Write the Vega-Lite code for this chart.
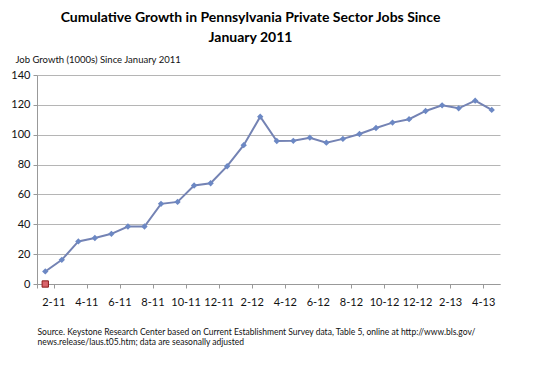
{
  "$schema": "https://vega.github.io/schema/vega-lite/v6.json",
  "autosize": {"type": "none"},
  "width": 463,
  "height": 209,
  "padding": {"left": 37, "top": 75, "right": 34, "bottom": 87},
  "background": "white",
  "config": {
    "font": "Lato",
    "view": {"stroke": null},
    "axis": {"labelColor": "#111", "titleColor": "#111", "domainColor": "#999", "tickColor": "#999", "gridColor": "#b5b5b5"}
  },
  "title": {
    "text": ["Cumulative Growth in Pennsylvania Private Sector Jobs Since", "January 2011"],
    "fontSize": 14,
    "fontWeight": "bold",
    "color": "#000",
    "anchor": "middle",
    "dx": -18,
    "lineHeight": 20,
    "offset": 9
  },
  "data": {
    "values": [
      {"month": "2-11", "value": 8.4, "series": "growth"},
      {"month": "3-11", "value": 16.2, "series": "growth"},
      {"month": "4-11", "value": 28.5, "series": "growth"},
      {"month": "5-11", "value": 30.8, "series": "growth"},
      {"month": "6-11", "value": 33.6, "series": "growth"},
      {"month": "7-11", "value": 38.5, "series": "growth"},
      {"month": "8-11", "value": 38.5, "series": "growth"},
      {"month": "9-11", "value": 53.7, "series": "growth"},
      {"month": "10-11", "value": 55.0, "series": "growth"},
      {"month": "11-11", "value": 66.0, "series": "growth"},
      {"month": "12-11", "value": 67.5, "series": "growth"},
      {"month": "1-12", "value": 78.9, "series": "growth"},
      {"month": "2-12", "value": 93.0, "series": "growth"},
      {"month": "3-12", "value": 112.1, "series": "growth"},
      {"month": "4-12", "value": 95.8, "series": "growth"},
      {"month": "5-12", "value": 95.9, "series": "growth"},
      {"month": "6-12", "value": 98.0, "series": "growth"},
      {"month": "7-12", "value": 94.7, "series": "growth"},
      {"month": "8-12", "value": 97.2, "series": "growth"},
      {"month": "9-12", "value": 100.5, "series": "growth"},
      {"month": "10-12", "value": 104.5, "series": "growth"},
      {"month": "11-12", "value": 108.1, "series": "growth"},
      {"month": "12-12", "value": 110.4, "series": "growth"},
      {"month": "1-13", "value": 115.9, "series": "growth"},
      {"month": "2-13", "value": 119.7, "series": "growth"},
      {"month": "3-13", "value": 117.7, "series": "growth"},
      {"month": "4-13", "value": 122.8, "series": "growth"},
      {"month": "5-13", "value": 116.6, "series": "growth"},
      {"month": "2-11", "value": 0, "series": "base"}
    ]
  },
  "encoding": {
    "x": {
      "field": "month",
      "type": "ordinal",
      "sort": null,
      "scale": {"type": "band", "paddingInner": 0, "paddingOuter": 0},
      "axis": {
        "values": ["2-11", "4-11", "6-11", "8-11", "10-11", "12-11", "2-12", "4-12", "6-12", "8-12", "10-12", "12-12", "2-13", "4-13"],
        "tickBand": "extent",
        "labelOffset": 8,
        "labelAngle": 0,
        "labelFontSize": 11,
        "labelPadding": 8,
        "tickSize": 4,
        "grid": false,
        "title": ["Source.  Keystone Research Center based on Current Establishment Survey data, Table 5, online at http://www.bls.gov/", "news.release/laus.t05.htm; data are seasonally adjusted"],
        "titleFontSize": 8.5,
        "titleFontWeight": "normal",
        "titleAlign": "left",
        "titleAnchor": "start",
        "titleBaseline": "top",
        "titleX": 0,
        "titleY": 43,
        "titleLineHeight": 10
      }
    },
    "y": {
      "field": "value",
      "type": "quantitative",
      "scale": {"domain": [0, 140]},
      "axis": {
        "values": [0, 20, 40, 60, 80, 100, 120, 140],
        "labelFontSize": 11,
        "labelPadding": 3,
        "tickSize": 4,
        "domain": true,
        "title": "Job Growth (1000s) Since January 2011",
        "titleFontSize": 9.5,
        "titleFontWeight": "normal",
        "titleAngle": 0,
        "titleAlign": "left",
        "titleBaseline": "alphabetic",
        "titleX": -22,
        "titleY": -13
      }
    }
  },
  "layer": [
    {
      "transform": [{"filter": "datum.series === 'growth'"}],
      "mark": {"type": "line", "color": "#7483b4", "strokeWidth": 2}
    },
    {
      "transform": [{"filter": "datum.series === 'growth'"}],
      "mark": {"type": "point", "shape": "diamond", "filled": true, "color": "#6c88c4", "size": 40, "opacity": 1}
    },
    {
      "transform": [{"filter": "datum.series === 'base'"}],
      "mark": {"type": "point", "shape": "square", "filled": true, "fill": "#d9646b", "stroke": "#8b1a1a", "strokeWidth": 1, "size": 40, "opacity": 1}
    }
  ]
}
